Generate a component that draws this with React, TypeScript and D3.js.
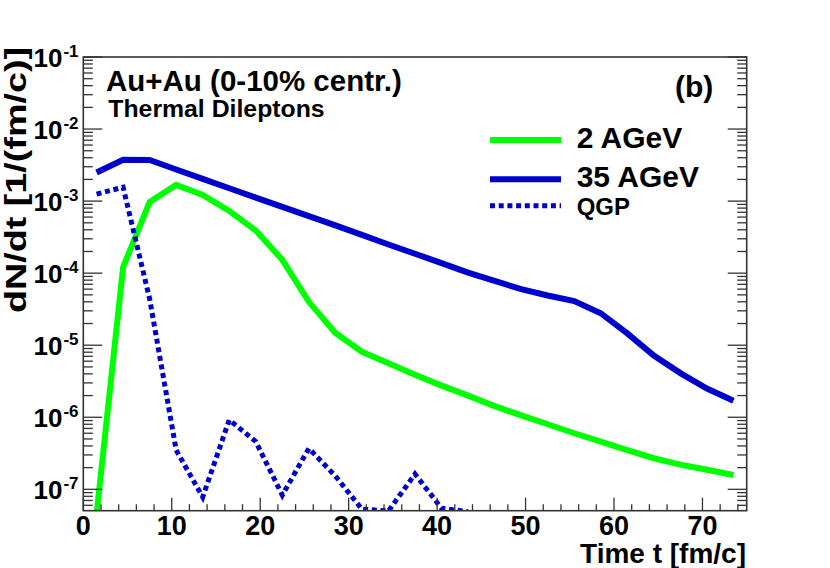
import React from 'react';
import * as d3 from 'd3';

// time grid [fm/c]
const times = [
  1.5, 4.5, 7.5, 10.5, 13.5, 16.5, 19.5, 22.5, 25.5, 28.5, 31.5, 34.5, 37.5,
  40.5, 43.5, 46.5, 49.5, 52.5, 55.5, 58.5, 61.5, 64.5, 67.5, 70.5, 73.5,
];

// dN/dt, 2 AGeV
const agev2 = [
  4.5e-8, 1.21e-4, 9.7e-4, 1.68e-3, 1.22e-3, 7.3e-4, 3.9e-4, 1.53e-4, 4.0e-5,
  1.48e-5, 8.1e-6, 5.6e-6, 3.9e-6, 2.75e-6, 2.0e-6, 1.43e-6, 1.06e-6, 8.0e-7,
  6.0e-7, 4.6e-7, 3.5e-7, 2.7e-7, 2.2e-7, 1.87e-7, 1.58e-7,
];

// dN/dt, 35 AGeV
const agev35 = [
  2.49e-3, 3.75e-3, 3.72e-3, 2.75e-3, 2.04e-3, 1.51e-3, 1.12e-3, 8.3e-4, 6.2e-4,
  4.6e-4, 3.4e-4, 2.5e-4, 1.86e-4, 1.38e-4, 1.02e-4, 7.8e-5, 6.0e-5, 4.9e-5,
  4.1e-5, 2.78e-5, 1.46e-5, 7.2e-6, 4.1e-6, 2.5e-6, 1.7e-6,
];

// QGP contribution at 35 AGeV (first 15 time steps)
const qgp = [
  1.25e-3, 1.56e-3, 4.4e-5, 3.5e-7, 7.8e-8, 9.2e-7, 4.6e-7, 8.3e-8, 3.7e-7,
  1.53e-7, 5.3e-8, 5.0e-8, 1.63e-7, 5.45e-8, 4.9e-8,
];

const xTicks = [0, 10, 20, 30, 40, 50, 60, 70];
const yExponents = [-7, -6, -5, -4, -3, -2, -1];

const legendItems = [
  { label: '2 AGeV', color: '#00ff00', dash: '', size: 30 },
  { label: '35 AGeV', color: '#0000cc', dash: '', size: 30 },
  { label: 'QGP', color: '#0000cc', dash: '5 3.7', size: 24 },
];

const W = 830;
const H = 568;
const left = 83.3;
const right = 746.7;
const top = 57;
const bottom = 510.7;

const font = '"Liberation Sans", Arial, Helvetica, sans-serif';

const App: React.FC = () => {
  const x = d3.scaleLinear().domain([0, 75]).range([left, right]);
  const y = d3.scaleLog().domain([5.05e-8, 0.1]).range([bottom, top]);

  const line = d3
    .line<number>()
    .x((_, i) => x(times[i]))
    .y((d) => y(d));

  const xMinor = d3.range(0, 75.01, 2).filter((t) => t % 10 !== 0);
  const yMinor: number[] = [];
  for (let e = -8; e <= -2; e++) {
    for (let k = 2; k <= 9; k++) {
      const v = k * Math.pow(10, e);
      if (v >= 5.05e-8 && v <= 0.1) yMinor.push(v);
    }
  }

  const tickColor = '#333';

  return (
    <svg
      width={W}
      height={H}
      style={{ position: 'absolute', left: 0, top: 0, background: '#fff' }}
      fontFamily={font}
      fontWeight="bold"
    >
      <defs>
        <clipPath id="frame">
          <rect x={left} y={top} width={right - left} height={bottom - top} />
        </clipPath>
      </defs>

      <g clipPath="url(#frame)" fill="none">
        <path d={line(agev2) || ''} stroke="#00ff00" strokeWidth={6} />
        <path d={line(agev35) || ''} stroke="#0000cc" strokeWidth={6} />
        <path
          d={line(qgp) || ''}
          stroke="#0000cc"
          strokeWidth={5}
          strokeDasharray="5 3.7"
        />
      </g>

      {/* x ticks */}
      <g stroke={tickColor} strokeWidth={1.3}>
        {xTicks.map((t) => (
          <line key={'xM' + t} x1={x(t)} x2={x(t)} y1={bottom} y2={bottom - 13} />
        ))}
        {xMinor.map((t) => (
          <line key={'xm' + t} x1={x(t)} x2={x(t)} y1={bottom} y2={bottom - 6.5} />
        ))}
        {yExponents.map((e) => {
          const yy = y(Math.pow(10, e));
          return (
            <g key={'yM' + e}>
              <line x1={left} x2={left + 19} y1={yy} y2={yy} />
              <line x1={right} x2={right - 19} y1={yy} y2={yy} />
            </g>
          );
        })}
        {yMinor.map((v) => {
          const yy = y(v);
          return (
            <g key={'ym' + v}>
              <line x1={left} x2={left + 9.5} y1={yy} y2={yy} />
              <line x1={right} x2={right - 9.5} y1={yy} y2={yy} />
            </g>
          );
        })}
      </g>

      <rect
        x={left}
        y={top}
        width={right - left}
        height={bottom - top}
        fill="none"
        stroke={tickColor}
        strokeWidth={1.6}
      />

      {/* tick labels */}
      {xTicks.map((t) => (
        <text key={'xl' + t} x={x(t)} y={535} fontSize={27} textAnchor="middle">
          {t}
        </text>
      ))}
      {yExponents.map((e) => (
        <text
          key={'yl' + e}
          x={78.5}
          y={y(Math.pow(10, e)) + 9.5}
          fontSize={26}
          textAnchor="end"
        >
          10
          <tspan dy={-10} dx={1} fontSize={17}>
            {String(e)}
          </tspan>
        </text>
      ))}

      {/* axis titles */}
      <text x={746} y={562.5} fontSize={28} textAnchor="end">
        Time t [fm/c]
      </text>
      <text
        transform="translate(25.5,313) rotate(-90)"
        fontSize={29}
        textLength={266}
        lengthAdjust="spacingAndGlyphs"
      >
        dN/dt [1/(fm/c)]
      </text>

      {/* labels */}
      <text x={106} y={90.7} fontSize={29.5}>
        Au+Au (0-10% centr.)
      </text>
      <text x={108.3} y={116.7} fontSize={24.8}>
        Thermal Dileptons
      </text>
      <text x={713.3} y={96.7} fontSize={30} textAnchor="end">
        (b)
      </text>

      {/* legend */}
      {legendItems.map((item, i) => {
        const ly = [140, 179.3, 205.7][i];
        const ty = [148.3, 186.7, 215][i];
        return (
          <g key={item.label}>
            <line
              x1={490}
              x2={561}
              y1={ly}
              y2={ly}
              stroke={item.color}
              strokeWidth={item.dash ? 5 : 6}
              strokeDasharray={item.dash || undefined}
            />
            <text x={576.7} y={ty} fontSize={item.size}>
              {item.label}
            </text>
          </g>
        );
      })}
    </svg>
  );
};

export default App;
